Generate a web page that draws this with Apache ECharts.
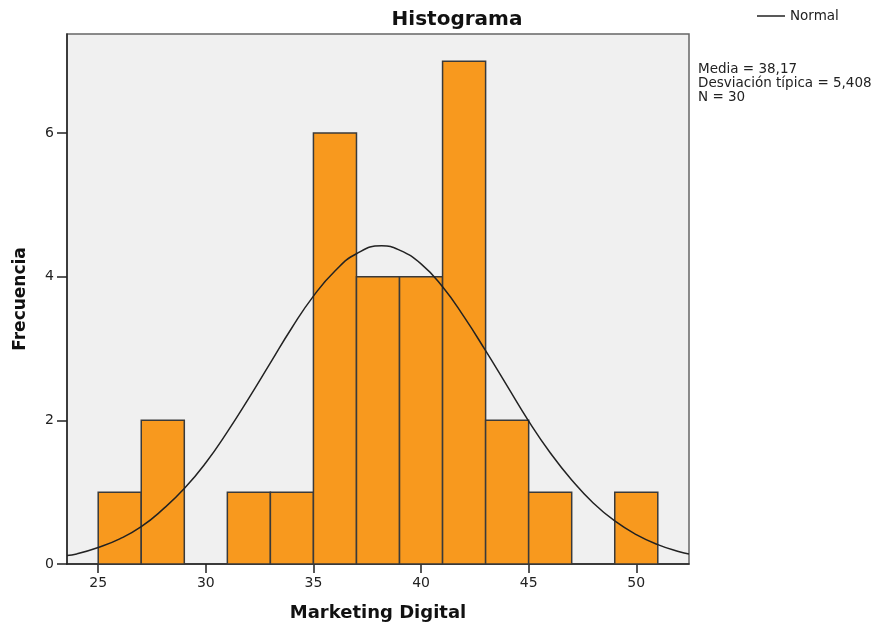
<!DOCTYPE html>
<html>
<head>
<meta charset="utf-8">
<script src="https://cdn.jsdelivr.net/npm/echarts@6/dist/echarts.min.js"></script>
<style>
  html, body { margin: 0; padding: 0; background: #fff; }
  #chart { width: 880px; height: 626px; }
</style>
</head>
<body>
<div id="chart"></div>
<script>
// bins of width 2 (start, end) and their counts
const binStarts = [25, 27, 29, 31, 33, 35, 37, 39, 41, 43, 45, 47, 49];
const binEnds   = [27, 29, 31, 33, 35, 37, 39, 41, 43, 45, 47, 49, 51];
const counts    = [1, 2, 0, 1, 1, 6, 4, 4, 7, 2, 1, 0, 1];

// normal curve
const curveX = [23.55, 24, 25, 26, 27, 28, 29, 30, 31, 32, 33, 34, 35, 36, 37, 38.17,
                39, 40, 41, 42, 43, 44, 45, 46, 47, 48, 49, 50, 51, 52, 52.45];
const curveY = [0.12, 0.14, 0.23, 0.35, 0.52, 0.76, 1.05, 1.41, 1.84, 2.31, 2.80, 3.29, 3.73, 4.08, 4.32, 4.43,
                4.37, 4.18, 3.86, 3.44, 2.97, 2.48, 1.99, 1.55, 1.17, 0.85, 0.60, 0.41, 0.27, 0.17, 0.14];

const xTicks = [25, 30, 35, 40, 45, 50];
const yTicks = [0, 2, 4, 6];
const statLines = ['Media = 38,17', 'Desviación típica = 5,408', 'N = 30'];

const font = '"DejaVu Sans", Verdana, sans-serif';

const chart = echarts.init(document.getElementById('chart'));

const barData = binStarts.map((s, i) => [s, binEnds[i], counts[i]]).filter(d => d[2] > 0);
const curveData = curveX.map((x, i) => [x, curveY[i]]);

chart.setOption({
    animation: false,
    title: {
        text: 'Histograma',
        left: 452,
        top: 5,
        textAlign: 'center',
        textStyle: { fontFamily: font, fontSize: 20, fontWeight: 'bold', color: '#111' }
    },
    legend: {
        data: [{ name: 'Normal', icon: 'rect' }],
        left: 752,
        top: 4,
        itemWidth: 28,
        itemHeight: 1.5,
        textStyle: { fontFamily: font, fontSize: 13.5, color: '#222' }
    },
    grid: {
        left: 67, right: 191, top: 34, bottom: 62,
        outerBoundsMode: 'none',
        containLabel: false,
        show: true,
        backgroundColor: '#f0f0f0',
        borderColor: '#666',
        borderWidth: 1.5
    },
    xAxis: {
        type: 'value',
        min: 23.55,
        max: 52.45,
        name: 'Marketing Digital',
        nameLocation: 'middle',
        nameGap: 40,
        nameTextStyle: { fontFamily: font, fontSize: 18, fontWeight: 'bold', color: '#111' },
        axisLine: { show: true, onZero: false, lineStyle: { color: '#222', width: 1.5 } },
        axisTick: { show: true, length: 9, customValues: xTicks, lineStyle: { color: '#222', width: 1.5 } },
        axisLabel: { customValues: xTicks, fontFamily: font, fontSize: 14, color: '#222', margin: 12 },
        splitLine: { show: false }
    },
    yAxis: {
        type: 'value',
        min: 0,
        max: 7.38,
        name: 'Frecuencia',
        nameLocation: 'middle',
        nameGap: 38,
        nameRotate: 90,
        nameMoveOverlap: false,
        nameTextStyle: { fontFamily: font, fontSize: 17, fontWeight: 'bold', color: '#111' },
        axisLine: { show: true, lineStyle: { color: '#222', width: 1.5 } },
        axisTick: { show: true, length: 10, customValues: yTicks, lineStyle: { color: '#222', width: 1.5 } },
        axisLabel: { customValues: yTicks, fontFamily: font, fontSize: 14, color: '#222', margin: 13 },
        splitLine: { show: false }
    },
    graphic: [{
        type: 'text',
        left: 698,
        top: 62,
        style: {
            text: statLines.join('\n'),
            font: '13.5px ' + font,
            lineHeight: 14,
            fill: '#222'
        }
    }],
    series: [
        {
            type: 'custom',
            name: 'bins',
            data: barData,
            encode: { x: [0, 1], y: 2 },
            renderItem: function (params, api) {
                const p0 = api.coord([api.value(0), api.value(2)]);
                const p1 = api.coord([api.value(1), 0]);
                return {
                    type: 'rect',
                    shape: { x: p0[0], y: p0[1], width: p1[0] - p0[0], height: p1[1] - p0[1] },
                    style: { fill: '#f8991e', stroke: '#3a3a3a', lineWidth: 1.5 }
                };
            }
        },
        {
            type: 'line',
            name: 'Normal',
            data: curveData,
            smooth: true,
            showSymbol: false,
            lineStyle: { color: '#222', width: 1.5 },
            itemStyle: { color: '#222' },
            z: 5
        }
    ]
});
</script>
</body>
</html>
